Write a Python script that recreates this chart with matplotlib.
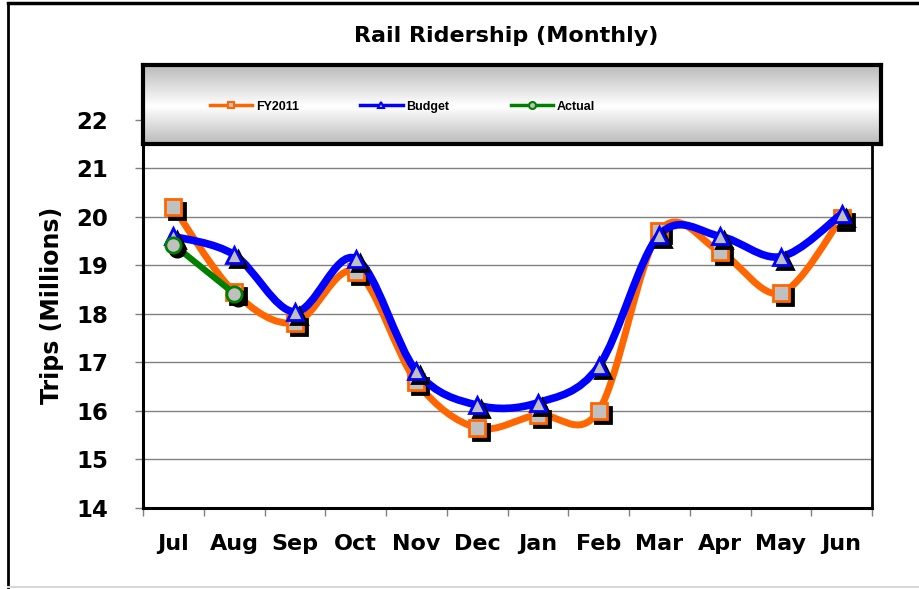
import numpy as np
import matplotlib
matplotlib.use('Agg')
import matplotlib.pyplot as plt
from matplotlib.path import Path
from matplotlib.patches import PathPatch
from matplotlib.lines import Line2D
from matplotlib.colors import LinearSegmentedColormap
import matplotlib.transforms as mtransforms

# Data (millions of trips)
months = ['Jul', 'Aug', 'Sep', 'Oct', 'Nov', 'Dec', 'Jan', 'Feb', 'Mar', 'Apr', 'May', 'Jun']
fy2011 = [20.2, 18.45, 17.82, 18.87, 16.6, 15.65, 15.92, 16.0, 19.7, 19.28, 18.43, 19.98]
budget = [19.6, 19.22, 18.04, 19.14, 16.82, 16.12, 16.17, 16.92, 19.63, 19.6, 19.18, 20.06]
actual = [19.43, 18.42]

W, H = 920, 589
fig = plt.figure(figsize=(W / 100, H / 100), dpi=100)
fig.patch.set_facecolor('white')

# outer chart border
fig.add_artist(Line2D([8 / W, 8 / W], [0, 1 - 3 / H], color='black', lw=2, transform=fig.transFigure))
fig.add_artist(Line2D([8 / W, 1], [1 - 3 / H, 1 - 3 / H], color='black', lw=2.5, transform=fig.transFigure))
fig.add_artist(Line2D([8 / W, 1], [2 / H, 2 / H], color='#d8d8d8', lw=1.5, transform=fig.transFigure))

ax = fig.add_axes([143 / W, 1 - 508 / H, (872 - 143) / W, (508 - 65) / H])
ax.set_xlim(0, 12)
ax.set_ylim(14, 23.13)


def smooth_path(xs, ys):
    # Excel-like smoothed line: cubic Bezier through the points (Catmull-Rom control points)
    pts = np.column_stack([xs, ys]).astype(float)
    n = len(pts)
    verts = [pts[0]]
    codes = [Path.MOVETO]
    for i in range(n - 1):
        p0 = pts[max(i - 1, 0)]
        p1 = pts[i]
        p2 = pts[i + 1]
        p3 = pts[min(i + 2, n - 1)]
        verts += [p1 + (p2 - p0) / 6, p2 - (p3 - p1) / 6, p2]
        codes += [Path.CURVE4] * 3
    return Path(verts, codes)


shadow = mtransforms.offset_copy(ax.transData, fig=fig, x=4, y=-4, units='dots')
xc = np.arange(12) + 0.5

series = [
    (fy2011, '#FF6600', 5.0, 's', 11, 2),
    (budget, '#0000FF', 5.5, '^', 12, 2),
    (actual, '#008000', 4.5, 'o', 11, 2),
]
z = 3
for vals, col, lw, mk, ms, mew in series:
    x = xc[:len(vals)]
    ax.add_patch(PathPatch(smooth_path(x, vals), fill=False, edgecolor=col, lw=lw,
                           capstyle='round', joinstyle='round', zorder=z))
    ax.plot(x, vals, ls='none', marker=mk, ms=ms, mfc='black', mec='black', mew=mew,
            transform=shadow, zorder=z + 0.1)
    ax.plot(x, vals, ls='none', marker=mk, ms=ms, mfc='#C0C0C0', mec=col, mew=mew,
            zorder=z + 0.2)
    z += 1

# grid and axes
ax.set_yticks(np.arange(14, 23))
ax.yaxis.grid(True, color='#808080', lw=1)
ax.set_axisbelow(True)
ax.set_xticks(np.arange(13))
ax.set_xticklabels([])
ax.set_xticks(xc, minor=True)
ax.set_xticklabels(months, minor=True, fontsize=16, fontweight='bold')
ax.tick_params(axis='x', which='major', direction='out', length=6, color='#808080', width=1)
ax.tick_params(axis='x', which='minor', length=0, pad=19)
ax.tick_params(axis='y', direction='out', length=6, color='#808080', width=1, pad=19)
for lab in ax.get_yticklabels():
    lab.set_fontsize(16.5)
    lab.set_fontweight('bold')
for s in ['left', 'bottom']:
    ax.spines[s].set_linewidth(2.2)
ax.spines['right'].set_linewidth(2)
ax.spines['top'].set_visible(False)

fig.text(52 / W, 1 - 305 / H, 'Trips (Millions)', rotation=90, ha='center', va='center',
         fontsize=17, fontweight='bold')
fig.text(506 / W, 1 - 36 / H, 'Rail Ridership (Monthly)', ha='center', va='center',
         fontsize=16, fontweight='bold')

# legend box with gray gradient
lax = fig.add_axes([143 / W, 1 - 144 / H, (881 - 143) / W, (144 - 65) / H])
cmap = LinearSegmentedColormap.from_list('g', ['#bababa', '#ffffff', '#bababa'])
grad = np.concatenate([np.linspace(0, 0.5, 52), np.linspace(0.5, 1, 48)]).reshape(-1, 1)
lax.imshow(grad, aspect='auto', cmap=cmap, extent=[0, 1, 0, 1], vmin=0, vmax=1)
lax.set_xticks([])
lax.set_yticks([])
for s in lax.spines.values():
    s.set_linewidth(3)
handles = [
    Line2D([], [], color='#FF6600', lw=2.5, marker='s', ms=5, mfc='#C0C0C0', mec='#FF6600', mew=1.5),
    Line2D([], [], color='#0000FF', lw=2.5, marker='^', ms=5, mfc='#C0C0C0', mec='#0000FF', mew=1.5),
    Line2D([], [], color='#008000', lw=2.5, marker='o', ms=5, mfc='#C0C0C0', mec='#008000', mew=1.5),
]
lax.legend(handles, ['FY2011', 'Budget', 'Actual'], loc='center left', ncol=3, frameon=False,
           prop={'weight': 'bold', 'size': 9, 'family': ['Liberation Sans Narrow', 'Liberation Sans']},
           handlelength=3.4, columnspacing=4.9, handletextpad=0.3,
           bbox_to_anchor=(0.075, 0.47))

fig.savefig('out.png', dpi=100)
